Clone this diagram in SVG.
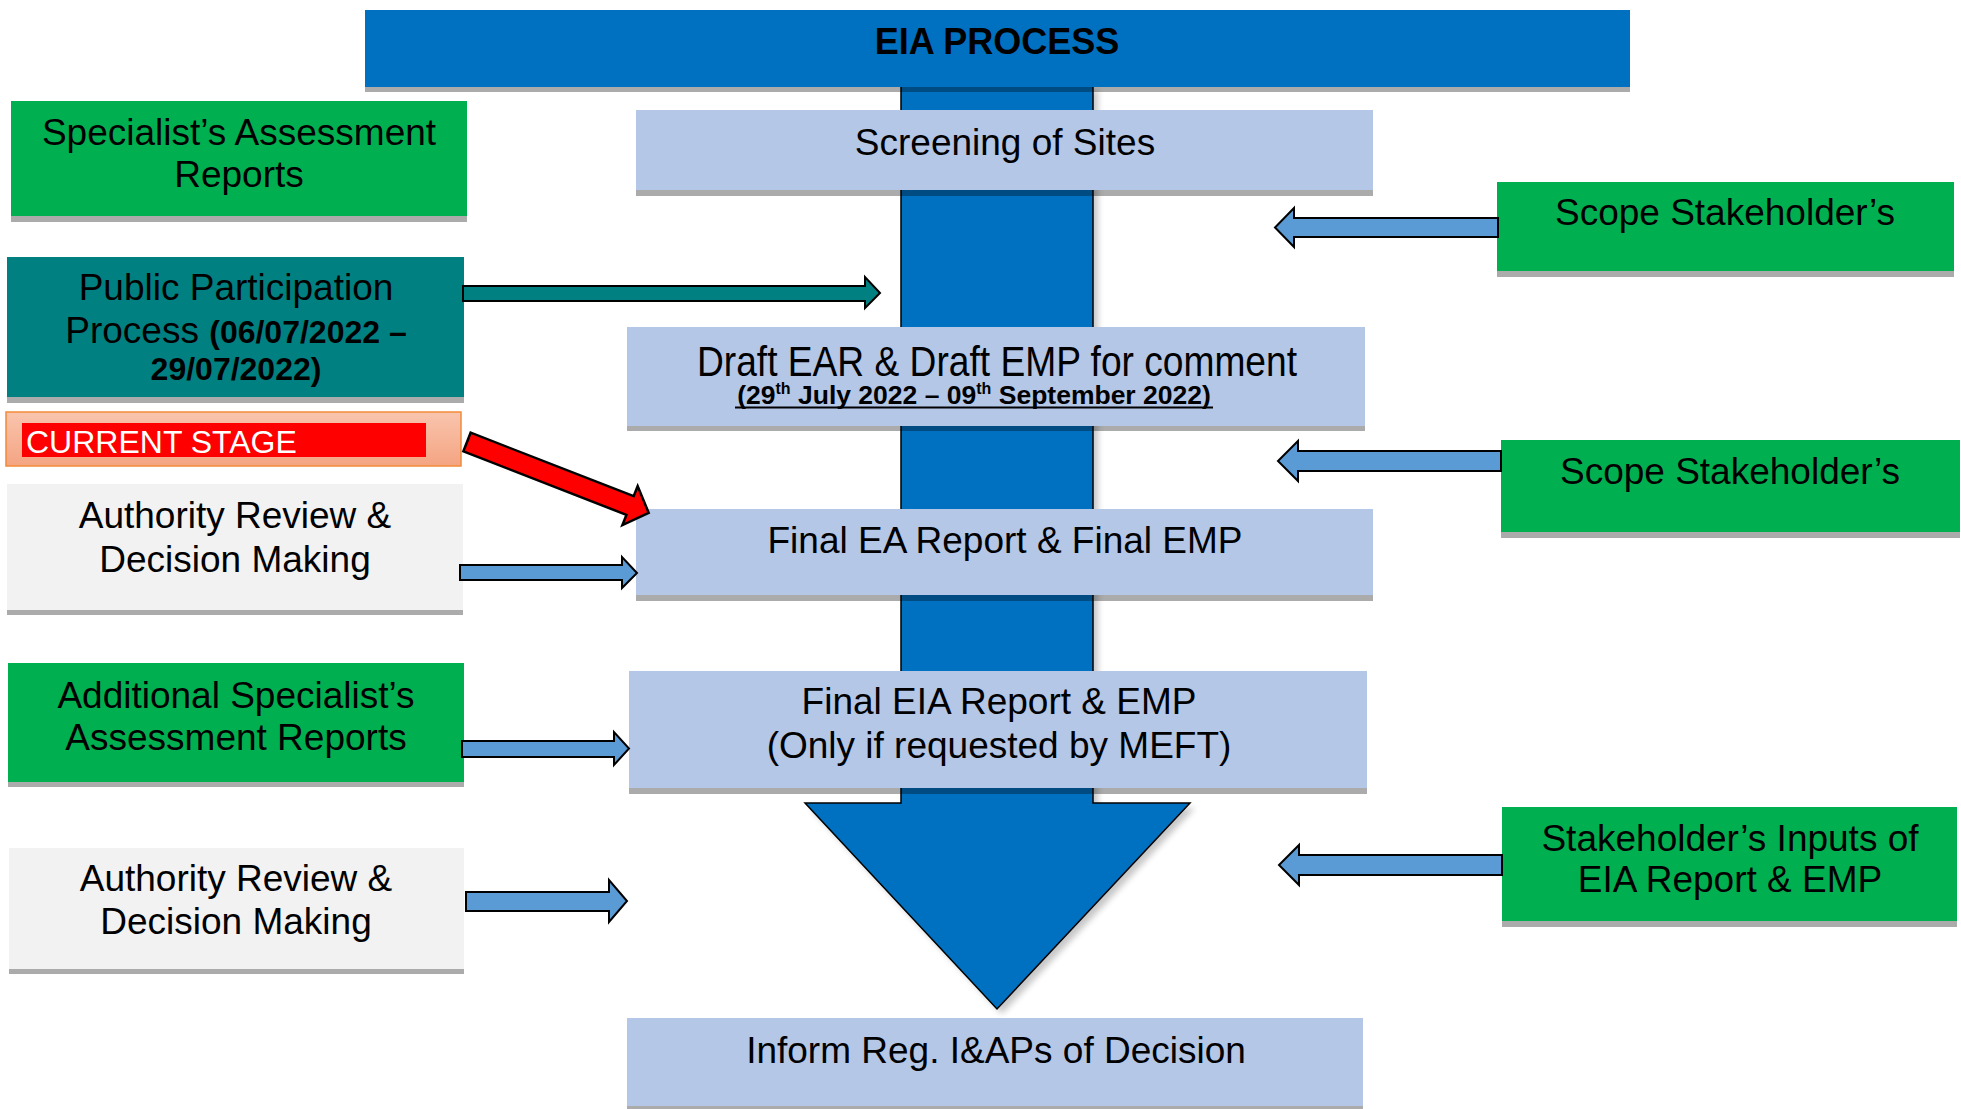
<svg xmlns="http://www.w3.org/2000/svg" width="1961" height="1109" viewBox="0 0 1961 1109">
  <defs>
    <style>
      .t{font-family:"Liberation Sans",Arial,Helvetica,sans-serif;fill:#000;text-anchor:middle}
      .b{font-weight:bold}
      .sh{fill:#000;fill-opacity:0.33}
      .lblue{fill:#B4C7E7}
      .green{fill:#00B050}
      .teal{fill:#008080}
      .grey{fill:#F2F2F2}
      .arr{fill:#5B9BD5;stroke:#000;stroke-width:2;stroke-linejoin:miter}
    </style>
    <linearGradient id="salmon" x1="0" y1="0" x2="0" y2="1">
      <stop offset="0" stop-color="#F9C5AE"/>
      <stop offset="1" stop-color="#F4A482"/>
    </linearGradient>
    <filter id="soft" x="-10%" y="-10%" width="120%" height="120%">
      <feGaussianBlur stdDeviation="3"/>
    </filter>
  </defs>

  <rect width="1961" height="1109" fill="#fff"/>

  <!-- big downward process arrow -->
  <g id="flow-arrow">
    <path d="M906,90 H1098 V808 H1195 L1002,1014 L810,808 H906 Z" fill="#000" opacity="0.22" filter="url(#soft)"/>
    <path d="M901,84 H1093 V803 H1190 L997,1009 L805,803 H901 Z" fill="#0070C0" stroke="#000" stroke-width="1.5"/>
  </g>

  <!-- title banner -->
  <g id="title">
    <rect x="365" y="15" width="1265" height="77" class="sh"/>
    <rect x="365" y="10" width="1265" height="77" fill="#0070C0"/>
    <text class="t b" x="997" y="54" font-size="36">EIA PROCESS</text>
  </g>

  <!-- left column -->
  <g id="specialist-reports" font-size="37">
    <rect x="11" y="107" width="456" height="115" class="sh"/>
    <rect x="11" y="101" width="456" height="115" class="green"/>
    <text class="t" x="239" y="145">Specialist’s Assessment</text>
    <text class="t" x="239" y="187">Reports</text>
  </g>

  <g id="public-participation" font-size="37">
    <rect x="7" y="263" width="457" height="140" class="sh"/>
    <rect x="7" y="257" width="457" height="140" class="teal"/>
    <text class="t" x="236" y="300">Public Participation</text>
    <text class="t" x="236" y="343">Process <tspan class="b" font-size="32">(06/07/2022 –</tspan></text>
    <text class="t b" x="236" y="380" font-size="32">29/07/2022)</text>
  </g>

  <g id="current-stage">
    <rect x="6" y="412" width="455" height="54" fill="url(#salmon)" stroke="#F28A3A" stroke-width="1.5"/>
    <rect x="22" y="423" width="404" height="34" fill="#FF0000"/>
    <text class="t" x="26" y="453" font-size="32" style="text-anchor:start;fill:#fff">CURRENT STAGE</text>
  </g>

  <g id="authority-review-1" font-size="37">
    <rect x="7" y="489" width="456" height="126" class="sh"/>
    <rect x="7" y="484" width="456" height="126" class="grey"/>
    <text class="t" x="235" y="528">Authority Review &amp;</text>
    <text class="t" x="235" y="572">Decision Making</text>
  </g>

  <g id="additional-specialist" font-size="37">
    <rect x="8" y="668" width="456" height="119" class="sh"/>
    <rect x="8" y="663" width="456" height="119" class="green"/>
    <text class="t" x="236" y="708">Additional Specialist’s</text>
    <text class="t" x="236" y="750">Assessment Reports</text>
  </g>

  <g id="authority-review-2" font-size="37">
    <rect x="9" y="853" width="455" height="121" class="sh"/>
    <rect x="9" y="848" width="455" height="121" class="grey"/>
    <text class="t" x="236" y="891">Authority Review &amp;</text>
    <text class="t" x="236" y="934">Decision Making</text>
  </g>

  <!-- centre column -->
  <g id="screening" font-size="37">
    <rect x="636" y="116" width="737" height="80" class="sh"/>
    <rect x="636" y="110" width="737" height="80" class="lblue"/>
    <text class="t" x="1005" y="155">Screening of Sites</text>
  </g>

  <g id="draft-ear">
    <rect x="627" y="332" width="738" height="99" class="sh"/>
    <rect x="627" y="327" width="738" height="99" class="lblue"/>
    <text class="t" x="997" y="376" font-size="42" textLength="600" lengthAdjust="spacingAndGlyphs">Draft EAR &amp; Draft EMP for comment</text>
    <text class="t b" x="974" y="404" font-size="26.5">(29<tspan font-size="16" dy="-10">th</tspan><tspan dy="10"> July 2022 – 09</tspan><tspan font-size="16" dy="-10">th</tspan><tspan dy="10"> September 2022)</tspan></text>
    <line x1="735" y1="407.5" x2="1213" y2="407.5" stroke="#000" stroke-width="2"/>
  </g>

  <g id="final-ea" font-size="37">
    <rect x="636" y="515" width="737" height="86" class="sh"/>
    <rect x="636" y="509" width="737" height="86" class="lblue"/>
    <text class="t" x="1005" y="553">Final EA Report &amp; Final EMP</text>
  </g>

  <g id="final-eia" font-size="37">
    <rect x="629" y="677" width="738" height="117" class="sh"/>
    <rect x="629" y="671" width="738" height="117" class="lblue"/>
    <text class="t" x="999" y="714">Final EIA Report &amp; EMP</text>
    <text class="t" x="999" y="758">(Only if requested by MEFT)</text>
  </g>

  <g id="inform-iaps" font-size="37">
    <rect x="627" y="1023" width="736" height="88" class="sh"/>
    <rect x="627" y="1018" width="736" height="88" class="lblue"/>
    <text class="t" x="996" y="1063">Inform Reg. I&amp;APs of Decision</text>
  </g>

  <!-- right column -->
  <g id="scope-stakeholders-1" font-size="37">
    <rect x="1497" y="188" width="457" height="89" class="sh"/>
    <rect x="1497" y="182" width="457" height="89" class="green"/>
    <text class="t" x="1725" y="225">Scope Stakeholder’s</text>
  </g>

  <g id="scope-stakeholders-2" font-size="37">
    <rect x="1501" y="446" width="459" height="92" class="sh"/>
    <rect x="1501" y="440" width="459" height="92" class="green"/>
    <text class="t" x="1730" y="484">Scope Stakeholder’s</text>
  </g>

  <g id="stakeholder-inputs" font-size="37">
    <rect x="1502" y="813" width="455" height="114" class="sh"/>
    <rect x="1502" y="807" width="455" height="114" class="green"/>
    <text class="t" x="1730" y="851">Stakeholder’s Inputs of</text>
    <text class="t" x="1730" y="892">EIA Report &amp; EMP</text>
  </g>

  <!-- connectors -->
  <g id="connectors">
    <polygon points="463,286 865,286 865,277 880,293 865,308 865,301 463,301" fill="#008080" stroke="#000" stroke-width="2"/>
    <polygon points="0,-10 175,-10 175,-21 195,0 175,21 175,10 0,10" transform="translate(467,442) rotate(21.3)" fill="#FF0000" stroke="#000" stroke-width="2.5"/>
    <polygon class="arr" points="460,565 622,565 622,557 637,573 622,588 622,580 460,580"/>
    <polygon class="arr" points="462,741 614,741 614,732 629,748.5 614,765 614,757 462,757"/>
    <polygon class="arr" points="466,892 609,892 609,880 627,901 609,922 609,911 466,911"/>
    <polygon class="arr" points="1498,218 1294,218 1294,208 1275,227.5 1294,247 1294,237 1498,237"/>
    <polygon class="arr" points="1501,451 1298,451 1298,441 1278,461 1298,481 1298,471 1501,471"/>
    <polygon class="arr" points="1502,855 1299,855 1299,845 1279,865 1299,885 1299,875 1502,875"/>
  </g>
</svg>
